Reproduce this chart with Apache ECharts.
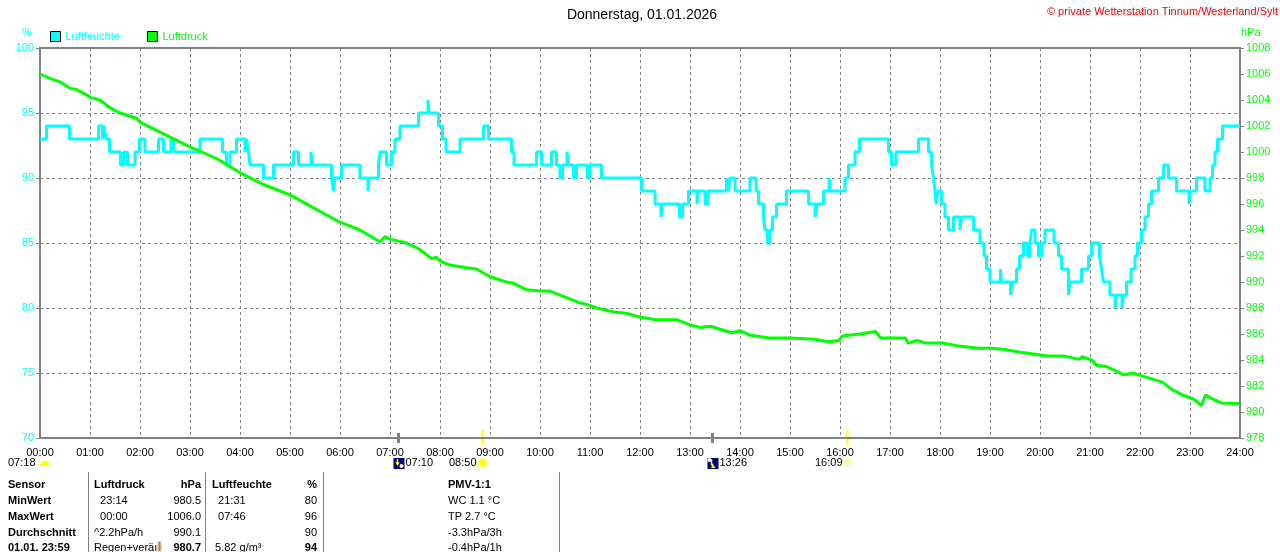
<!DOCTYPE html>
<html>
<head>
<meta charset="utf-8">
<title>Wetterstation Tinnum</title>
<script src="https://cdn.jsdelivr.net/npm/echarts@6.0.0/dist/echarts.min.js"></script>
<style>
  html, body { margin: 0; padding: 0; background: #ffffff; }
  #chart { width: 1280px; height: 552px; }
</style>
</head>
<body>
<div id="chart"></div>
<script>
// ---------- data ----------
var dayTitle = 'Donnerstag, 01.01.2026';
var creditText = '\u00A9 private Wetterstation Tinnum/Westerland/Sylt';

// Luftfeuchte (%) - change points, hour of day -> value
var humHours = [0, 0.13, 0.59, 1.17, 1.25, 1.28, 1.32, 1.39, 1.61, 1.67, 1.75, 1.9, 1.99, 2.1, 2.37, 2.47, 2.62, 2.68,
  3.2, 3.65, 3.73, 3.8, 3.93, 4.1, 4.13, 4.17, 4.2, 4.47, 4.67, 5.07, 5.17, 5.42, 5.45, 5.83, 5.87, 5.9, 6.03,
  6.4, 6.56, 6.58, 6.77, 6.8, 6.93, 7.03, 7.1, 7.2, 7.57, 7.76, 7.78, 7.97, 8.05, 8.12, 8.4, 8.87, 8.97,
  9.43, 9.48, 9.93, 10.03, 10.23, 10.33, 10.4, 10.45, 10.54, 10.56, 10.67, 10.73, 10.95, 11.0, 11.23,
  12.03, 12.3, 12.42, 12.45, 12.79, 12.85, 12.97, 13.14, 13.16, 13.3, 13.35, 13.73, 13.77, 13.8, 13.9,
  14.2, 14.32, 14.37, 14.47, 14.5, 14.55, 14.6, 14.65, 14.73, 14.93, 15.37, 15.5, 15.54, 15.67, 15.78, 15.8,
  16.1, 16.17, 16.3, 16.39, 16.97, 17.03, 17.12, 17.57, 17.77, 17.83, 17.87, 17.9, 17.92, 17.95, 18.03,
  18.1, 18.17, 18.27, 18.4, 18.43, 18.67, 18.8, 18.88, 18.93, 19.0, 19.21, 19.23, 19.41, 19.45, 19.53,
  19.59, 19.67, 19.75, 19.8, 19.83, 19.9, 19.97, 20.03, 20.1, 20.28, 20.37, 20.43, 20.57, 20.6, 20.83,
  20.97, 21.03, 21.19, 21.23, 21.27, 21.4, 21.5, 21.53, 21.64, 21.67, 21.73, 21.82, 21.9, 21.95, 22.03,
  22.1, 22.17, 22.23, 22.37, 22.47, 22.57, 22.73, 22.98, 23.01, 23.13, 23.3, 23.4, 23.45, 23.5, 23.55,
  23.65, 24];
var humValues = [93, 94, 93, 94, 93, 94, 93, 92, 91, 92, 91, 92, 93, 92, 93, 92, 93, 92,
  93, 92, 91, 92, 93, 92, 93, 92, 91, 90, 91, 92, 91, 92, 91, 90, 89, 90, 91,
  90, 89, 90, 91, 92, 91, 92, 93, 94, 95, 96, 95, 94, 93, 92, 93, 94, 93,
  92, 91, 92, 91, 92, 91, 90, 91, 92, 91, 90, 91, 90, 91, 90,
  89, 88, 87, 88, 87, 88, 89, 88, 89, 88, 89, 90, 89, 90, 89,
  90, 89, 88, 87, 86, 85, 86, 87, 88, 89, 88, 87, 88, 89, 90, 89,
  90, 91, 92, 93, 92, 91, 92, 93, 92, 91, 90, 89, 88, 89, 88,
  87, 86, 87, 86, 87, 86, 85, 84, 83, 82, 83, 82, 81, 82, 83,
  84, 85, 84, 85, 86, 85, 84, 85, 86, 85, 84, 83, 81, 82, 83,
  84, 85, 84, 83, 82, 81, 80, 81, 80, 81, 82, 83, 84, 85, 86,
  87, 88, 89, 90, 91, 90, 89, 88, 89, 90, 89, 90, 91, 92, 93,
  94, 94];

// Luftdruck (hPa)
var pressHours = [0, 0.17, 0.4, 0.6, 0.73, 0.93, 1.0, 1.2, 1.4, 1.6, 1.93, 2.0, 2.47, 3.0, 3.53, 4.0, 4.47,
  4.8, 5.0, 5.47, 6.0, 6.4, 6.8, 6.9, 7.0, 7.33, 7.6, 7.83, 7.93, 8.0, 8.2, 8.53, 8.73, 9.0, 9.33, 9.47,
  9.73, 10.0, 10.2, 10.53, 10.8, 11.0, 11.13, 11.47, 11.73, 12.0, 12.33, 12.73, 13.0, 13.2, 13.41, 13.83,
  14.0, 14.21, 14.59, 15.01, 15.49, 15.77, 15.98, 16.05, 16.4, 16.71, 16.81, 17.3, 17.37, 17.54, 17.72,
  18.07, 18.34, 18.76, 19.04, 19.32, 19.6, 19.8, 20.15, 20.5, 20.78, 20.85, 21.06, 21.12, 21.33, 21.68,
  21.86, 22.1, 22.45, 22.65, 22.86, 23.07, 23.23, 23.31, 23.45, 23.63, 23.98];
var pressValues = [1006.0, 1005.7, 1005.4, 1004.9, 1004.8, 1004.4, 1004.2, 1004.0, 1003.4, 1003.0, 1002.6, 1002.3,
  1001.4, 1000.4, 999.5, 998.4, 997.5, 997.0, 996.7, 995.7, 994.6, 994.0, 993.1, 993.5, 993.3, 993.0, 992.5,
  991.8, 991.9, 991.6, 991.3, 991.1, 991.0, 990.4, 990.0, 989.9, 989.4, 989.3, 989.3, 988.8, 988.4, 988.2,
  988.0, 987.7, 987.6, 987.3, 987.1, 987.1, 986.7, 986.5, 986.6, 986.1, 986.25, 985.9, 985.7, 985.7, 985.6,
  985.4, 985.5, 985.85, 986.0, 986.2, 985.7, 985.7, 985.3, 985.5, 985.3, 985.3, 985.1, 984.9, 984.9, 984.8,
  984.6, 984.5, 984.3, 984.3, 984.05, 984.25, 983.95, 983.6, 983.5, 982.85, 983.0, 982.7, 982.3, 981.7,
  981.3, 981.0, 980.5, 981.3, 981.0, 980.7, 980.65];

// Sonne / Mond Ereignisse
var eventLabels = ['07:10', '08:50', '13:26', '16:09'];
var eventHours = [7 + 10 / 60, 8 + 50 / 60, 13 + 26 / 60, 16 + 9 / 60];
var eventKinds = ['moonset', 'sunrise', 'moonrise', 'sunset'];
var dawnLabel = '07:18';

// Tabelle unten
var tableRows = [
  ['Sensor', 'Luftdruck', 'hPa', 'Luftfeuchte', '%', 'PMV-1:1'],
  ['MinWert', '  23:14', '980.5', '  21:31', '80', 'WC 1.1 \u00B0C'],
  ['MaxWert', '  00:00', '1006.0', '  07:46', '96', 'TP 2.7 \u00B0C'],
  ['Durchschnitt', '^2.2hPa/h', '990.1', '', '90', '-3.3hPa/3h'],
  ['01.01. 23:59', 'Regen+ver\u00E4\u0131', '980.7', ' 5.82 g/m\u00B3', '94', '-0.4hPa/1h']
];

// ---------- chart ----------
var FONT = '"Liberation Sans", Arial, sans-serif';
var CYAN = '#00FFFF';
var GREEN = '#00FF00';
var GREY = '#808080';

document.addEventListener('DOMContentLoaded', function () {
  var chart = echarts.init(document.getElementById('chart'), null, { renderer: 'canvas' });

  var humData = humHours.map(function (h, i) { return [h, humValues[i]]; });
  var pressData = pressHours.map(function (h, i) { return [h, pressValues[i]]; });

  var option = {
    animation: false,
    backgroundColor: '#ffffff',
    textStyle: { fontFamily: FONT },
    legend: {
      left: 50,
      top: 31,
      padding: 0,
      icon: 'rect',
      itemWidth: 10,
      itemHeight: 10,
      itemGap: 27,
      selectedMode: false,
      itemStyle: { borderColor: '#000000', borderWidth: 1 },
      textStyle: { fontSize: 11, fontFamily: FONT },
      data: [
        { name: 'Luftfeuchte', textStyle: { color: CYAN } },
        { name: 'Luftdruck', textStyle: { color: GREEN } }
      ]
    },
    grid: {
      left: 40, right: 40, top: 48, bottom: 114,
      containLabel: false,
      outerBoundsMode: 'none',
      show: true,
      borderColor: GREY,
      borderWidth: 2
    },
    xAxis: {
      type: 'value',
      min: 0, max: 24, interval: 1,
      axisLine: { show: true, lineStyle: { color: GREY, width: 2 } },
      axisTick: { show: false },
      axisLabel: {
        color: '#000000', fontSize: 11, fontFamily: FONT, margin: 9,
        showMinLabel: true, showMaxLabel: true,
        formatter: function (v) { return (v < 10 ? '0' : '') + v + ':00'; }
      },
      splitLine: { show: true, lineStyle: { color: GREY, width: 1, type: [3, 3] } }
    },
    yAxis: [
      {
        type: 'value',
        min: 70, max: 100, interval: 5,
        position: 'left',
        axisLine: { show: true, lineStyle: { color: GREY, width: 2 } },
        axisTick: { show: true, length: 4, lineStyle: { color: GREY } },
        axisLabel: { color: CYAN, fontSize: 11, fontFamily: FONT, margin: 6, showMinLabel: true, showMaxLabel: true,
          formatter: function (v) { return String(v); } },
        splitLine: { show: true, lineStyle: { color: GREY, width: 1, type: [3, 3] } }
      },
      {
        type: 'value',
        min: 978, max: 1008, interval: 2,
        position: 'right',
        axisLine: { show: true, lineStyle: { color: GREY, width: 2 } },
        axisTick: { show: true, length: 4, lineStyle: { color: GREY } },
        axisLabel: { color: GREEN, fontSize: 11, fontFamily: FONT, margin: 6, showMinLabel: true, showMaxLabel: true,
          formatter: function (v) { return String(v); } },
        splitLine: { show: false }
      }
    ],
    series: [
      {
        name: 'Luftfeuchte',
        type: 'line',
        yAxisIndex: 0,
        step: 'end',
        showSymbol: false,
        symbol: 'none',
        color: CYAN,
        lineStyle: { color: CYAN, width: 3 },
        data: humData
      },
      {
        name: 'Luftdruck',
        type: 'line',
        yAxisIndex: 1,
        showSymbol: false,
        symbol: 'none',
        color: GREEN,
        lineStyle: { color: GREEN, width: 3 },
        data: pressData
      }
    ]
  };
  chart.setOption(option);

  // ---------- text, markers and table ----------
  var g = [];
  function txt(x, y, s, opts) {
    opts = opts || {};
    g.push({
      type: 'text', x: x, y: y, silent: true,
      style: {
        text: s,
        fill: opts.color || '#000000',
        font: (opts.bold ? 'bold ' : '') + (opts.size || 11) + 'px ' + FONT,
        align: opts.align || 'left',
        verticalAlign: 'middle'
      }
    });
  }

  txt(642, 15, dayTitle, { size: 14, align: 'center' });
  txt(1278, 12, creditText, { color: '#FF0000', align: 'right' });
  txt(27, 33, '%', { color: CYAN, align: 'center' });
  txt(1241, 33, 'hPa', { color: GREEN });

  // sun / moon ticks on the time axis
  var axisY = 438;
  eventHours.forEach(function (h, i) {
    var x = Math.round(chart.convertToPixel({ xAxisIndex: 0 }, h)) + 0.5;
    var isSun = eventKinds[i].indexOf('sun') === 0;
    g.push({
      type: 'line', silent: true,
      shape: { x1: x, y1: isSun ? axisY - 8 : axisY - 5, x2: x, y2: isSun ? axisY + 7 : axisY + 5 },
      style: { stroke: isSun ? '#FFFF00' : GREY, lineWidth: isSun ? 2 : 3 }
    });
    var iy = 463;
    if (eventKinds[i] === 'sunrise') {
      g.push({ type: 'circle', silent: true, shape: { cx: x, cy: iy, r: 5 }, style: { fill: '#FFFF80' } });
      g.push({ type: 'circle', silent: true, shape: { cx: x, cy: iy, r: 3.5 }, style: { fill: '#FFFF00' } });
      txt(x - 6, iy, eventLabels[i], { align: 'right' });
    } else if (eventKinds[i] === 'sunset') {
      g.push({ type: 'rect', silent: true, shape: { x: x - 2.5, y: iy - 2.5, width: 5, height: 5 },
        style: { fill: 'none', stroke: '#FFFF00', lineWidth: 1 } });
      txt(x - 5, iy, eventLabels[i], { align: 'right' });
    } else {
      g.push({ type: 'rect', silent: true, shape: { x: x - 5, y: iy - 5, width: 11, height: 11 }, style: { fill: '#000080' } });
      g.push({ type: 'circle', silent: true, shape: { cx: x + (eventKinds[i] === 'moonset' ? 3 : -3), cy: iy + (eventKinds[i] === 'moonset' ? 3 : -3), r: 2 },
        style: { fill: '#ffffff' } });
      g.push({ type: 'polygon', silent: true,
        shape: { points: eventKinds[i] === 'moonset'
          ? [[x - 3, iy - 1], [x + 1, iy - 1], [x - 1, iy + 3]]
          : [[x - 1, iy - 1], [x + 3, iy + 5], [x - 1 + 0, iy + 5]] },
        style: { fill: '#FFFF00' } });
      g.push({ type: 'line', silent: true,
        shape: { x1: x - 1, y1: iy - 4, x2: x - 1, y2: iy + 2 }, style: { stroke: '#FFFF00', lineWidth: 1.5 } });
      txt(x + 7, iy, eventLabels[i]);
    }
  });
  // dawn marker at the far left
  txt(8, 463, dawnLabel);
  g.push({ type: 'sector', silent: true,
    shape: { cx: 45, cy: 466, r0: 0, r: 5, startAngle: Math.PI, endAngle: 2 * Math.PI },
    style: { fill: '#FFFF00' } });

  // table
  var sepX = [88.5, 205.5, 323.5, 559.5];
  sepX.forEach(function (x) {
    g.push({ type: 'line', silent: true, shape: { x1: x, y1: 472, x2: x, y2: 552 }, style: { stroke: GREY, lineWidth: 1 } });
  });
  var rowY = [485, 501, 517, 533, 548];
  tableRows.forEach(function (row, r) {
    var head = r === 0;
    var last = r === tableRows.length - 1;
    txt(8, rowY[r], row[0], { bold: true });
    txt(94, rowY[r], row[1], { bold: head });
    txt(201, rowY[r], row[2], { bold: head || last, align: 'right' });
    txt(212, rowY[r], row[3], { bold: head });
    txt(317, rowY[r], row[4], { bold: head || last, align: 'right' });
    txt(448, rowY[r], row[5], { bold: head });
  });
  // pressure trend arrow before the current value
  g.push({ type: 'rect', silent: true, shape: { x: 157, y: 541, width: 5, height: 11 }, style: { fill: '#E0E0E0' } });
  g.push({ type: 'line', silent: true, shape: { x1: 159.5, y1: 542, x2: 159.5, y2: 551 }, style: { stroke: '#C08000', lineWidth: 2 } });

  chart.setOption({ graphic: g });

  window.addEventListener('resize', function () { chart.resize(); });
});
</script>
</body>
</html>
